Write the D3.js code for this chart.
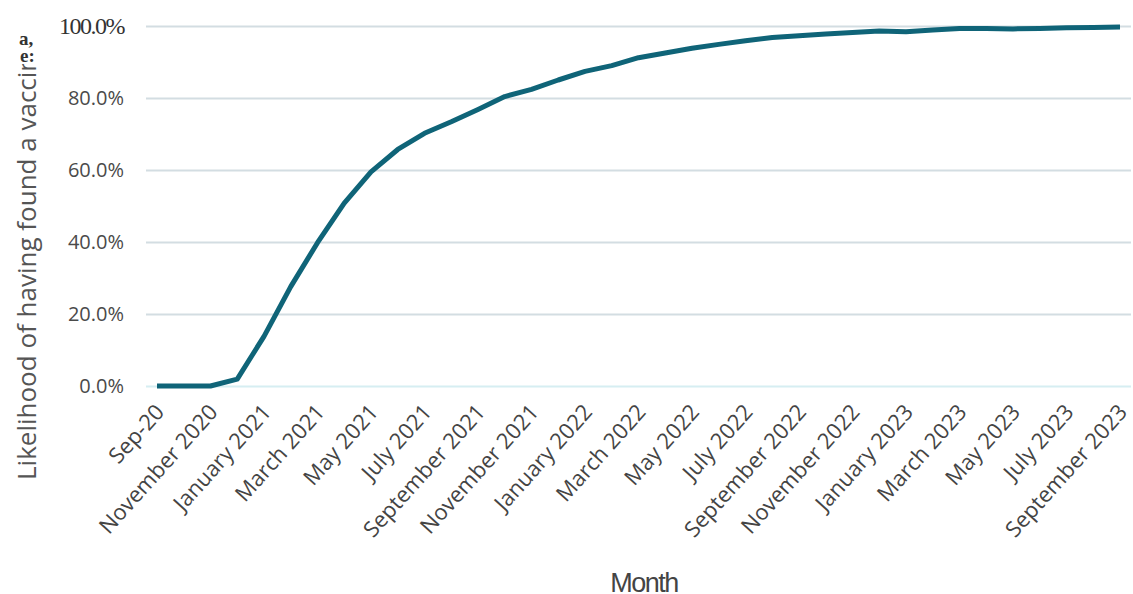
<!DOCTYPE html>
<html>
<head>
<meta charset="utf-8">
<script src="https://cdn.jsdelivr.net/npm/d3@7"></script>
<style>
  body { margin: 0; background: #fff; overflow: hidden; }
  svg { display: block; }
  .tick text { fill: #444; }
</style>
</head>
<body>
<svg width="1133" height="594"></svg>
<script>
//## DATA ##
const months = ['Sep-20', 'October 2020', 'November 2020', 'December 2020', 'January 2021', 'February 2021',
  'March 2021', 'April 2021', 'May 2021', 'June 2021', 'July 2021', 'August 2021', 'September 2021',
  'October 2021', 'November 2021', 'December 2021', 'January 2022', 'February 2022', 'March 2022',
  'April 2022', 'May 2022', 'June 2022', 'July 2022', 'August 2022', 'September 2022', 'October 2022',
  'November 2022', 'December 2022', 'January 2023', 'February 2023', 'March 2023', 'April 2023',
  'May 2023', 'June 2023', 'July 2023', 'August 2023', 'September 2023']
const likelihood = [0, 0, 0, 1.9, 13.8, 27.6, 39.8, 50.8, 59.5, 65.7, 70.2, 73.4, 76.8, 80.4, 82.4,
  85.0, 87.4, 89.0, 91.2, 92.5, 93.8, 94.9, 95.9, 96.8, 97.3, 97.8, 98.2, 98.6, 98.4, 98.9,
  99.3, 99.3, 99.2, 99.3, 99.5, 99.6, 99.7]
const yTicks = [0, 20, 40, 60, 80, 100]
const xLabels = months.filter((m, i) => i % 2 === 0)

//## D3 VARIABLES ##
const svg = d3.select('svg')
const margin = { left: 157, right: 13, top: 26, bottom: 208 }
const width = 1133
const height = 594
const innerWidth = width - margin.left - margin.right
const innerHeight = height - margin.top - margin.bottom

const g = svg.append('g').attr('transform', 'translate(' + margin.left + ',' + margin.top + ')')

const scaleX = d3.scalePoint()
  .domain(months)
  .range([0, innerWidth])

const scaleY = d3.scaleLinear()
  .domain([0, 100])
  .range([innerHeight, 0])

// gridlines + y labels
const yAxis = d3.axisLeft(scaleY)
  .tickValues(yTicks)
  .tickSize(-(innerWidth + 22))
  .tickPadding(12)
  .tickFormat(d => d3.format('.1f')(d) + '%')

const yAxisGroup = g.append('g')
  .attr('class', 'yAxis')
  .attr('transform', 'translate(-11,0)')
  .call(yAxis)

yAxisGroup.select('.domain').remove()
yAxisGroup.selectAll('.tick line')
  .attr('stroke', d => d === 0 ? '#d6eef2' : '#d3dde2')
  .attr('stroke-width', 2)
  .attr('x1', 0)
yAxisGroup.selectAll('.tick text')
  .attr('x', -22)
  .style('font-family', d => d === 100 ? '"Liberation Serif", serif' : '"Open Sans", sans-serif')
  .style('font-size', d => d === 100 ? '24px' : '20px')
  .style('letter-spacing', d => d === 100 ? '-1.5px' : '0px')
  .style('fill', d => d === 100 ? '#333' : '#4a4a4a')

// x axis labels
const xAxis = d3.axisBottom(scaleX)
  .tickValues(xLabels)
  .tickSize(0)
  .tickPadding(0)

const xAxisGroup = g.append('g')
  .attr('class', 'xAxis')
  .attr('transform', 'translate(0,' + innerHeight + ')')
  .call(xAxis)

xAxisGroup.select('.domain').remove()
xAxisGroup.selectAll('text')
  .attr('text-anchor', 'end')
  .attr('dy', 0)
  .attr('y', 0)
  .attr('transform', 'translate(8,27) rotate(-48)')
  .style('font-family', '"Open Sans", sans-serif')
  .style('font-size', '22px')

// line
const line = d3.line()
  .x((d, i) => scaleX(months[i]))
  .y(d => scaleY(d))

g.append('path')
  .datum(likelihood)
  .attr('fill', 'none')
  .attr('stroke', '#0f6478')
  .attr('stroke-width', 5)
  .attr('stroke-linejoin', 'round')
  .attr('d', line)

// axis titles
svg.append('text')
  .text('Month')
  .attr('x', 644)
  .attr('y', 592)
  .attr('text-anchor', 'middle')
  .style('font-family', '"Liberation Sans Narrow", "Liberation Sans", sans-serif')
  .style('font-size', '27px')
  .style('letter-spacing', '-1.5px')
  .style('fill', '#444')

svg.append('clipPath').attr('id', 'yclip')
  .append('rect').attr('x', 0).attr('y', 64).attr('width', 60).attr('height', 530)

svg.append('g')
  .attr('clip-path', 'url(#yclip)')
  .append('text')
  .text('Likelihood of having found a vaccine')
  .attr('transform', 'translate(36,480) rotate(-90)')
  .attr('text-anchor', 'start')
  .style('font-family', '"Open Sans", sans-serif')
  .style('font-size', '26px')
  .style('fill', '#555')

svg.append('text')
  .text('a,')
  .attr('x', 19)
  .attr('y', 45)
  .style('font-family', '"Liberation Serif", serif')
  .style('font-weight', 'bold')
  .style('font-size', '19px')
  .style('fill', '#333')

svg.append('text')
  .text('e:')
  .attr('x', 20)
  .attr('y', 62)
  .style('font-family', '"Liberation Serif", serif')
  .style('font-weight', 'bold')
  .style('font-size', '19px')
  .style('fill', '#333')
</script>
</body>
</html>
